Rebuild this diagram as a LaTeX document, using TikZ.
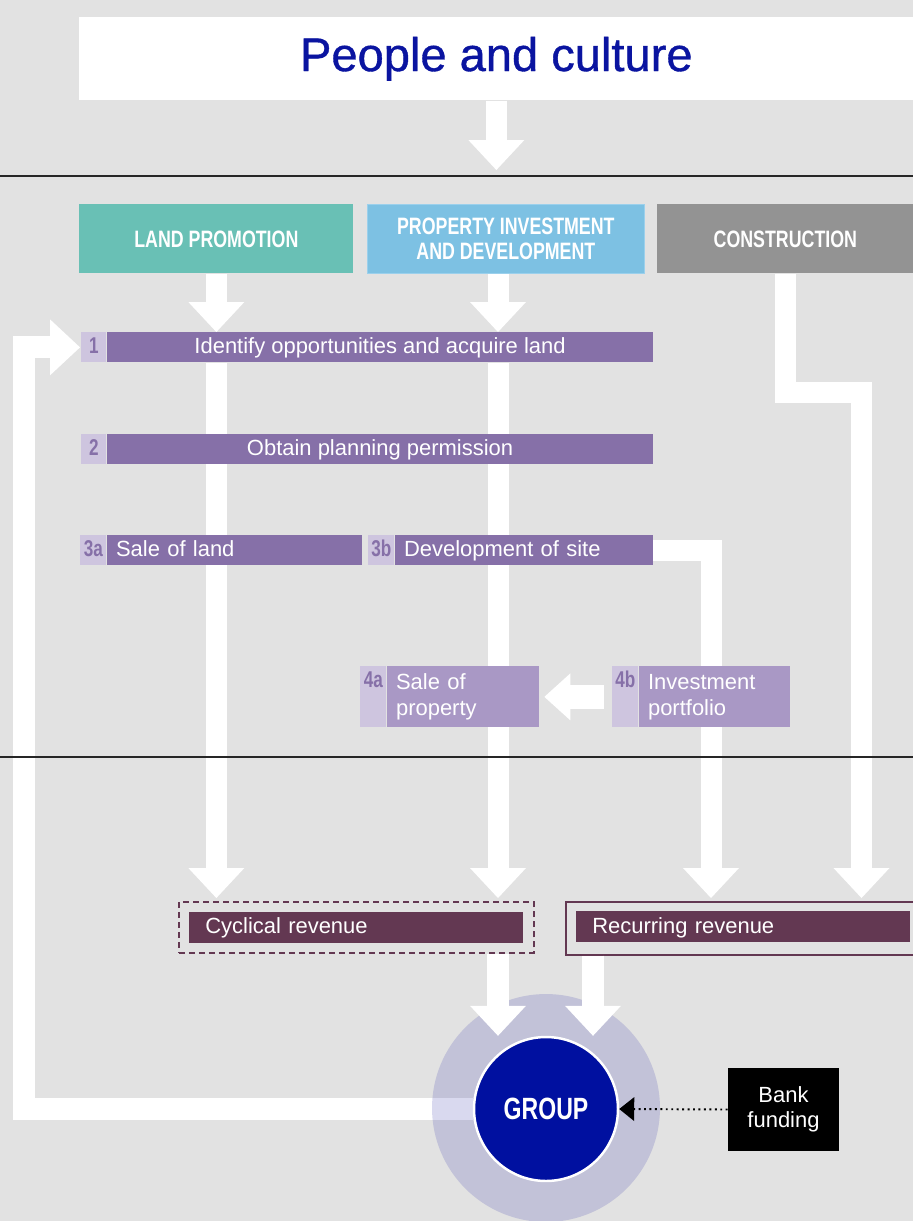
\documentclass[tikz,border=0pt]{standalone}
\usepackage{fontspec}
\setmainfont{Liberation Sans}
\newfontfamily\condfont[FakeStretch=0.75]{Liberation Sans}
\newfontfamily\titlefont[FakeBold=0.8]{Liberation Sans}
\usetikzlibrary{arrows.meta,positioning}

\definecolor{bggray}{HTML}{E2E2E2}
\definecolor{titleblue}{HTML}{0A14A0}
\definecolor{landteal}{HTML}{69C0B5}
\definecolor{propblue}{HTML}{7DC1E3}
\definecolor{propedge}{HTML}{9BD0EC}
\definecolor{consgray}{HTML}{939393}
\definecolor{barpurple}{HTML}{8670A8}
\definecolor{numlilac}{HTML}{CEC5DF}
\definecolor{portlilac}{HTML}{A998C5}
\definecolor{revmaroon}{HTML}{633852}
\definecolor{groupblue}{HTML}{0010A0}
\definecolor{halotint}{RGB}{66,66,176}

\newcommand{\pxu}{0.02cm}
\pgfdeclarelayer{back}
\pgfdeclarelayer{flows}
\pgfsetlayers{back,flows,main}

\tikzset{
  catbox/.style={anchor=north west, inner sep=0pt, minimum height=69*\pxu, text=white, align=center, font=\condfont\bfseries\fontsize{13.5}{14.2}\selectfont},
  numbox/.style={anchor=north west, inner sep=0pt, fill=numlilac, text=barpurple, minimum width=25*\pxu, minimum height=30*\pxu, text height=9.6pt, text depth=2.4pt, font=\condfont\bfseries\fontsize{13}{14}\selectfont},
  numtall/.style={numbox, minimum width=26*\pxu, minimum height=0pt, text height=0.42cm, text depth=0.8cm},
  barbox/.style={inner sep=0pt, fill=barpurple, text=white, minimum height=30*\pxu, text height=9.6pt, text depth=2.4pt, font=\fontsize{12.5}{14.5}\selectfont},
  barleft/.style={barbox, align=left, inner xsep=0.18cm},
  portbox/.style={inner sep=0pt, fill=portlilac, text=white, minimum height=61*\pxu, align=left, inner xsep=0.18cm, font=\fontsize{12.5}{14.8}\selectfont},
  revbox/.style={inner sep=0pt, fill=revmaroon, text=white, minimum height=31*\pxu, text height=9.6pt, text depth=2.4pt, align=left, inner xsep=0.32cm, text width=6.04cm, font=\fontsize{12.5}{14.5}\selectfont},
  flow/.style={draw=white, line width=0.42cm, -{Triangle[width=1.12cm,length=0.6cm,line width=0pt]}},
  dotline/.style={draw=black, line width=1.1pt, dash pattern=on 1.1pt off 2pt, -{Triangle[width=0.48cm,length=0.3cm,line width=0pt]}},
  sepline/.style={draw=black!85, line width=0.8pt}
}

\begin{document}
\begin{tikzpicture}[x=0.02cm, y=-0.02cm]
\begin{pgfonlayer}{back}
\fill[bggray] (0,0) rectangle (913,1221);
\end{pgfonlayer}
\useasboundingbox (0,0) rectangle (913,1221);

\coordinate (sep1) at (0,176);
\coordinate (sep2) at (0,757);
\coordinate (pcol) at (498,0);
\coordinate (rcol) at (711,0);
\coordinate (gcol) at (593,0);
\coordinate (loopx) at (24,0);
\coordinate (cbend) at (861.5,392.5);

% header and business lines
\node[anchor=north west, fill=white, inner sep=0pt, minimum width=834*\pxu, minimum height=83*\pxu, text=titleblue, font=\titlefont\fontsize{26.8}{30}\selectfont] (title) at (79,17) {People and culture};
\node[catbox, fill=landteal, minimum width=274*\pxu] (land) at (79,204) {LAND PROMOTION};
\node[catbox, fill=propblue, draw=propedge, minimum width=277*\pxu] (prop) at (367,204) {PROPERTY INVESTMENT\\AND DEVELOPMENT};
\node[catbox, fill=consgray, minimum width=256*\pxu] (cons) at (657,204) {CONSTRUCTION};

% steps
\node[numbox] (n1) at (81,332) {1};
\node[barbox, right=0pt of n1, minimum width=546*\pxu] (bar1) {Identify opportunities and acquire land};
\node[numbox] (n2) at (81,434) {2};
\node[barbox, right=0pt of n2, minimum width=546*\pxu] (bar2) {Obtain planning permission};
\node[numbox, minimum width=26*\pxu] (n3a) at (80,535) {3a};
\node[barleft, right=0pt of n3a, text width=4.74cm] (bar3a) {Sale of land};
\node[numbox, minimum width=26*\pxu] (n3b) at (368,535) {3b};
\node[barleft, right=0pt of n3b, text width=4.8cm] (bar3b) {Development of site};
\node[numtall] (n4a) at (360,666) {4a};
\node[portbox, anchor=north west, text width=2.68cm] (t4a) at (n4a.north east) {Sale of\\property};
\node[numtall] (n4b) at (612,666) {4b};
\node[portbox, anchor=north west, text width=2.66cm] (t4b) at (n4b.north east) {Investment\\portfolio};

% revenue
\node[anchor=north west, draw=revmaroon, line width=0.9pt, dash pattern=on 3.4pt off 2.3pt, inner sep=0pt, minimum width=355*\pxu, minimum height=51*\pxu] (cycframe) at (178,901) {};
\node[revbox] (cyc) at (cycframe) {Cyclical revenue};
\node[anchor=north west, draw=revmaroon, line width=0.9pt, inner sep=0pt, minimum width=360*\pxu, minimum height=53*\pxu] (recframe) at (565,901) {};
\node[revbox, anchor=north west] (rec) at (576,911) {Recurring revenue};

% group
\node[circle, fill=halotint, fill opacity=0.2, inner sep=0pt, minimum size=4.56cm] (halo) at (546,1108) {};
\node[circle, fill=groupblue, draw=white, line width=1.4pt, inner sep=0pt, minimum size=2.88cm, text=white, font=\condfont\bfseries\fontsize{17.5}{20}\selectfont] (group) at (546,1109) {GROUP};
\node[fill=black, text=white, inner sep=0pt, minimum width=111*\pxu, minimum height=83*\pxu, align=center, font=\fontsize{12.5}{14.2}\selectfont] (bank) at (783.5,1109.5) {Bank\\funding};

\begin{pgfonlayer}{flows}
\draw[flow, shorten >=0.12cm] (title.south) -- (title.south |- sep1);
\draw[flow] (land.south) -- (land.south |- bar1.north);
\draw[flow] (prop.south -| pcol) -- (pcol |- bar1.north);
\draw[flow, shorten >=0.06cm] (bar1.south -| land.south) -- (land.south |- cycframe.north);
\draw[flow, shorten >=0.06cm] (bar1.south -| pcol) -- (pcol |- cycframe.north);
\draw[flow, shorten >=0.06cm] (bar3b.east) -| (rcol |- recframe.north);
\draw[flow, shorten >=0.06cm] (cons.south) |- (cbend) -- (cbend |- recframe.north);
\draw[flow, line width=0.44cm, shorten >=0.02cm] (group.west) -| (loopx |- n1.west) -- (n1.west);
\end{pgfonlayer}

\draw[flow, line width=0.48cm, -{Triangle[width=0.94cm,length=0.52cm,line width=0pt]}, shorten <=0.16cm, shorten >=0.1cm] (n4b.west |- t4b.west) -- (t4a.east);
\draw[flow, line width=0.44cm] (pcol |- cycframe.south) -- (pcol |- group.north);
\draw[flow, line width=0.44cm] (gcol |- recframe.south) -- (gcol |- group.north);
\draw[dotline] (bank.west) -- (group.east);

\draw[sepline] (sep1) -- (sep1 -| title.east);
\draw[sepline] (sep2) -- (sep2 -| title.east);
\end{tikzpicture}
\end{document}
